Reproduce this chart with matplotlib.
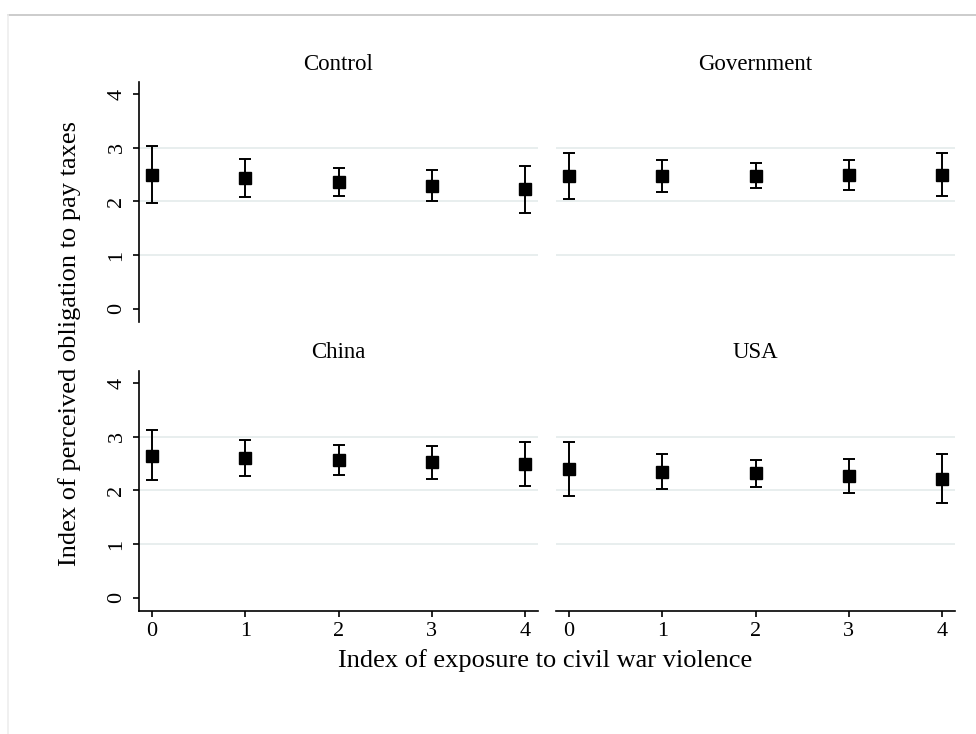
import numpy as np
import matplotlib
matplotlib.use("Agg")
import matplotlib.pyplot as plt
from matplotlib.lines import Line2D

plt.rcParams['font.family'] = ['Liberation Serif', 'DejaVu Serif']

# exposure index (x) and estimates with 95% CI per treatment panel
exposure = [0, 1, 2, 3, 4]
panels = ["Control", "Government", "China", "USA"]

control_est = [2.50, 2.43, 2.36, 2.29, 2.23]
control_lo = [1.98, 2.08, 2.11, 2.01, 1.79]
control_hi = [3.03, 2.79, 2.62, 2.59, 2.66]

government_est = [2.47, 2.47, 2.48, 2.49, 2.50]
government_lo = [2.04, 2.18, 2.25, 2.21, 2.10]
government_hi = [2.90, 2.78, 2.72, 2.77, 2.90]

china_est = [2.65, 2.60, 2.57, 2.53, 2.49]
china_lo = [2.19, 2.27, 2.29, 2.22, 2.09]
china_hi = [3.12, 2.95, 2.85, 2.83, 2.90]

usa_est = [2.41, 2.35, 2.32, 2.27, 2.22]
usa_lo = [1.90, 2.02, 2.07, 1.96, 1.76]
usa_hi = [2.91, 2.69, 2.57, 2.58, 2.69]

yticks = [0, 1, 2, 3, 4]
grid_vals = [1, 2, 3]

series = {
    "Control": (control_est, control_lo, control_hi),
    "Government": (government_est, government_lo, government_hi),
    "China": (china_est, china_lo, china_hi),
    "USA": (usa_est, usa_lo, usa_hi),
}

W, H = 976, 734
fig = plt.figure(figsize=(W / 100, H / 100), dpi=100)

# panel boxes in pixels: left, top, right, bottom
boxes = {
    "Control": (139, 82, 538, 322),
    "Government": (556, 82, 955, 322),
    "China": (139, 371, 538, 611),
    "USA": (556, 371, 955, 611),
}

grid_color = '#e6eded'

for i, name in enumerate(panels):
    l, t, r, b = boxes[name]
    ax = fig.add_axes([l / W, 1 - b / H, (r - l) / W, (b - t) / H])
    est, lo, hi = series[name]
    est = np.array(est)
    err = [est - np.array(lo), np.array(hi) - est]

    for g in grid_vals:
        ax.axhline(g, color=grid_color, lw=1.3, zorder=0)

    ax.errorbar(exposure, est, yerr=err, fmt='s', color='black', ms=8.5,
                elinewidth=1.4, capsize=4, capthick=1.4, zorder=3)

    ax.set_xlim(-0.14, 4.14)
    ax.set_ylim(-0.25, 4.23)
    ax.set_title(name, fontsize=16.5, pad=9)

    for s in ax.spines.values():
        s.set_visible(False)

    left_col = i % 2 == 0
    bottom_row = i >= 2

    if left_col:
        ax.spines['left'].set_visible(True)
        ax.spines['left'].set_linewidth(1.2)
        ax.set_yticks(yticks)
        ax.set_yticklabels([str(v) for v in yticks], rotation=90, va='center',
                           fontsize=16)
        ax.tick_params(axis='y', length=4, width=1.2, pad=5)
    else:
        ax.set_yticks([])

    if bottom_row:
        ax.spines['bottom'].set_visible(True)
        ax.spines['bottom'].set_linewidth(1.2)
        ax.set_xticks(exposure)
        ax.set_xticklabels([str(v) for v in exposure], fontsize=16)
        ax.tick_params(axis='x', length=4, width=1.2, pad=4)
    else:
        ax.set_xticks([])

fig.text(70 / W, 1 - 343 / H, "Index of perceived obligation to pay taxes",
         rotation=90, ha='center', va='center', fontsize=19)
fig.text(545 / W, 1 - 661 / H, "Index of exposure to civil war violence",
         ha='center', va='center', fontsize=19)

# outer frame lines of the exported graph
fig.add_artist(Line2D([8 / W, 1], [1 - 15 / H, 1 - 15 / H], color='#c4c4c4', lw=1.2))
fig.add_artist(Line2D([8 / W, 8 / W], [0, 1 - 15 / H], color='#eeeeee', lw=1.2))

fig.savefig("out.png", dpi=100)
